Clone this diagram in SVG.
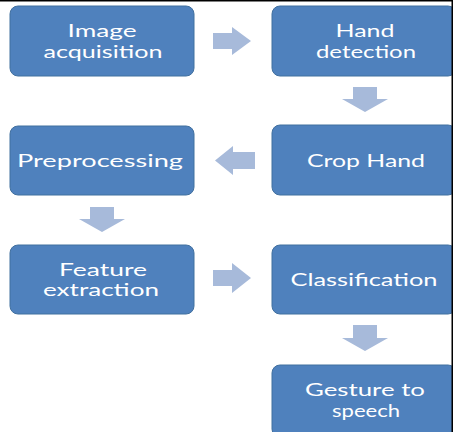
<svg xmlns="http://www.w3.org/2000/svg" width="453" height="432" viewBox="0 0 453 432">
<style>
.box{fill:#4F81BD;stroke:#41709F;stroke-width:1}
.lbl{font-family:Lato,"Open Sans","Liberation Sans",sans-serif;font-size:17px;fill:#FFFFFF;text-anchor:middle}
.arr{fill:#A7BADA}
</style>
<rect x="0" y="0" width="453" height="432" fill="#FFFFFF"/>
<g id="connectors">
<polygon class="arr" points="213,33 232,33 232,27 251,41 232,55 232,49 213,49"/>
<polygon class="arr" points="353,87 377,87 377,99 388,99 365,112 342,99 353,99"/>
<polygon class="arr" points="255,152 233,152 233,146 215,160.5 233,175 233,169 255,169"/>
<polygon class="arr" points="90,207 114,207 114,219 125,219 102,232 79,219 90,219"/>
<polygon class="arr" points="213,270 232,270 232,263 251,278 232,293 232,286 213,286"/>
<polygon class="arr" points="353,325 377,325 377,338 388,338 365,351 342,338 353,338"/>
</g>
<g id="n1"><rect class="box" x="10" y="6" width="184" height="70" rx="8"/>
<text class="lbl" x="102" y="37" textLength="69" lengthAdjust="spacingAndGlyphs">Image</text>
<text class="lbl" x="103" y="57.5" textLength="119" lengthAdjust="spacingAndGlyphs">acquisition</text></g>
<g id="n2"><rect class="box" x="272" y="6" width="184" height="70" rx="8"/>
<text class="lbl" x="365" y="37" textLength="59" lengthAdjust="spacingAndGlyphs">Hand</text>
<text class="lbl" x="366" y="57.5" textLength="100" lengthAdjust="spacingAndGlyphs">detection</text></g>
<g id="n3"><rect class="box" x="10" y="126" width="184" height="69" rx="8"/>
<text class="lbl" x="100" y="167" textLength="166" lengthAdjust="spacingAndGlyphs">Preprocessing</text></g>
<g id="n4"><rect class="box" x="272" y="125" width="184" height="70" rx="8"/>
<text class="lbl" x="366" y="167" textLength="118" lengthAdjust="spacingAndGlyphs">Crop Hand</text></g>
<g id="n5"><rect class="box" x="10" y="245" width="184" height="69" rx="8"/>
<text class="lbl" x="103" y="275.5" textLength="88" lengthAdjust="spacingAndGlyphs">Feature</text>
<text class="lbl" x="101" y="296" textLength="116" lengthAdjust="spacingAndGlyphs">extraction</text></g>
<g id="n6"><rect class="box" x="272" y="245" width="184" height="69" rx="8"/>
<text class="lbl" x="364" y="286" textLength="147" lengthAdjust="spacingAndGlyphs">Classification</text></g>
<g id="n7"><rect class="box" x="272" y="365" width="184" height="72" rx="8"/>
<text class="lbl" x="365" y="396" textLength="120" lengthAdjust="spacingAndGlyphs">Gesture to</text>
<text class="lbl" x="366" y="416.5" textLength="68" lengthAdjust="spacingAndGlyphs">speech</text></g>
<rect x="0" y="0" width="453" height="1.5" fill="#000000"/>
<rect x="451.5" y="0" width="1.5" height="432" fill="#000000"/>
</svg>
